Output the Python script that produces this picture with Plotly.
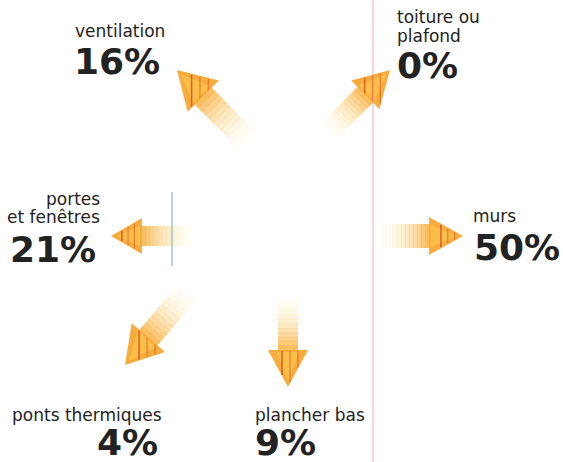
import plotly.graph_objects as go
import math

# ---- data ----
categories = ["ventilation", "toiture ou<br>plafond", "portes<br>et fenêtres",
              "murs", "ponts thermiques", "plancher bas"]
values = [16, 0, 21, 50, 4, 9]

W, H = 563, 462

# layout of each item (pixel space, y downward)
label_pos = [
    [(73, 31.1, "left")],
    [(395, 17.1, "left"), (395, 36.1, "left")],
    [(102, 198.6, "right"), (102, 217.1, "right")],
    [(471, 216.1, "left")],
    [(10, 414.6, "left")],
    [(253, 414.6, "left")],
]
num_pos = [(72, 61.5, "left"), (395, 65.5, "left"), (98, 249.0, "right"),
           (472, 247.5, "left"), (95, 442.5, "left"), (253, 442.5, "left")]

# arrow geometry: tip, direction, length, shaft half width, head half width, head length
arrow_geo = [
    ((177, 70), (-1, -1), 100, 12, 22, 37),
    ((390, 70), (1, -1), 85, 11, 20, 35),
    ((111, 236), (-1, 0), 80, 10, 18, 31),
    ((463, 236), (1, 0), 82, 12, 19, 34),
    ((125, 365), (-60, 70), 95, 12, 22, 36),
    ((288, 387), (0, 1), 90, 10, 20, 37),
]

shapes = []


def path_of(pts):
    return "M " + " L ".join(f"{x:.2f},{y:.2f}" for x, y in pts) + " Z"


def vclip(poly, c):
    ys = []
    n = len(poly)
    for i in range(n):
        (x0, y0), (x1, y1) = poly[i], poly[(i + 1) % n]
        if (x0 - c) * (x1 - c) <= 0 and x0 != x1:
            t = (c - x0) / (x1 - x0)
            ys.append(y0 + t * (y1 - y0))
    if len(ys) >= 2:
        return min(ys), max(ys)
    return None


for (tip, d, L, sw, hw, hl) in arrow_geo:
    n = math.hypot(*d)
    dx, dy = d[0] / n, d[1] / n
    px, py = -dy, dx
    tx, ty = tip
    bx, by = tx - hl * dx, ty - hl * dy
    sx, sy = tx - L * dx, ty - L * dy
    N = 12
    slen = L - hl
    for i in range(N):
        a0 = i / N * slen
        a1 = min((i + 1) / N * slen + 0.8, slen + 1)
        t = (i + 0.5) / N
        c0 = (255, 244, 200)
        c1 = (248, 178, 66)
        col = tuple(int(c0[k] + (c1[k] - c0[k]) * t) for k in range(3))
        p0 = (sx + a0 * dx, sy + a0 * dy)
        p1 = (sx + a1 * dx, sy + a1 * dy)
        poly = [(p0[0] + sw * px, p0[1] + sw * py), (p1[0] + sw * px, p1[1] + sw * py),
                (p1[0] - sw * px, p1[1] - sw * py), (p0[0] - sw * px, p0[1] - sw * py)]
        shapes.append(dict(type="path", path=path_of(poly), xref="x", yref="y",
                           fillcolor=f"rgb{col}", opacity=0.12 + 0.78 * t ** 1.3,
                           line=dict(width=0), layer="below"))
    head = [(tx, ty), (bx + hw * px, by + hw * py), (bx - hw * px, by - hw * py)]
    shapes.append(dict(type="path", path=path_of(head), xref="x", yref="y",
                       fillcolor="#f7a834", opacity=0.95, line=dict(width=0), layer="below"))
    inner = [(tx - 6 * dx, ty - 6 * dy),
             (bx + 0.55 * hw * px + 2 * dx, by + 0.55 * hw * py + 2 * dy),
             (bx - 0.55 * hw * px + 2 * dx, by - 0.55 * hw * py + 2 * dy)]
    shapes.append(dict(type="path", path=path_of(inner), xref="x", yref="y",
                       fillcolor="#fcc74e", opacity=0.7, line=dict(width=0), layer="below"))
    xs = [p[0] for p in head]
    xmin, xmax = min(xs), max(xs)
    for f, col, wd in [(0.35, "rgba(214,70,30,0.75)", 1.6), (0.55, "rgba(232,110,40,0.7)", 1.4),
                       (0.75, "rgba(220,80,30,0.6)", 1.2)]:
        c = xmin + f * (xmax - xmin)
        r = vclip(head, c)
        if r:
            shapes.append(dict(type="line", x0=c, x1=c, y0=r[0] + 1, y1=r[1] - 1,
                               xref="x", yref="y", line=dict(color=col, width=wd),
                               layer="below"))

# scan artefact lines
shapes.append(dict(type="line", x0=373, x1=373, y0=0, y1=H, xref="x", yref="y",
                   line=dict(color="rgba(240,120,150,0.55)", width=1.2), layer="below"))
shapes.append(dict(type="line", x0=172, x1=172, y0=192, y1=266, xref="x", yref="y",
                   line=dict(color="rgba(150,180,210,0.6)", width=2), layer="below"))

annotations = []
LABEL_FONT = dict(family="DejaVu Sans, Verdana, sans-serif", size=17, color="#222222")
NUM_FONT = dict(family="DejaVu Sans, Verdana, sans-serif", size=36, color="#222222")

for cat, val, lpos, npos in zip(categories, values, label_pos, num_pos):
    lines = cat.split("<br>")
    for line, (x, y, anc) in zip(lines, lpos):
        annotations.append(dict(x=x, y=y, xref="x", yref="y", text=line, showarrow=False,
                                xanchor=anc, yanchor="middle", font=LABEL_FONT))
    x, y, anc = npos
    annotations.append(dict(x=x, y=y, xref="x", yref="y", text=f"<b>{val}%</b>",
                            showarrow=False, xanchor=anc, yanchor="middle", font=NUM_FONT))

fig = go.Figure()
fig.add_trace(go.Scatter(x=[0, W], y=[0, H], mode="markers",
                         marker=dict(opacity=0), hoverinfo="skip", showlegend=False))
fig.update_layout(
    width=W, height=H, margin=dict(l=0, r=0, t=0, b=0),
    paper_bgcolor="white", plot_bgcolor="white",
    xaxis=dict(range=[0, W], visible=False, fixedrange=True),
    yaxis=dict(range=[H, 0], visible=False, fixedrange=True),
    shapes=shapes, annotations=annotations, showlegend=False,
)
fig.write_html("out.html", config={"displayModeBar": False},
               post_script="document.body.style.margin='0';")
